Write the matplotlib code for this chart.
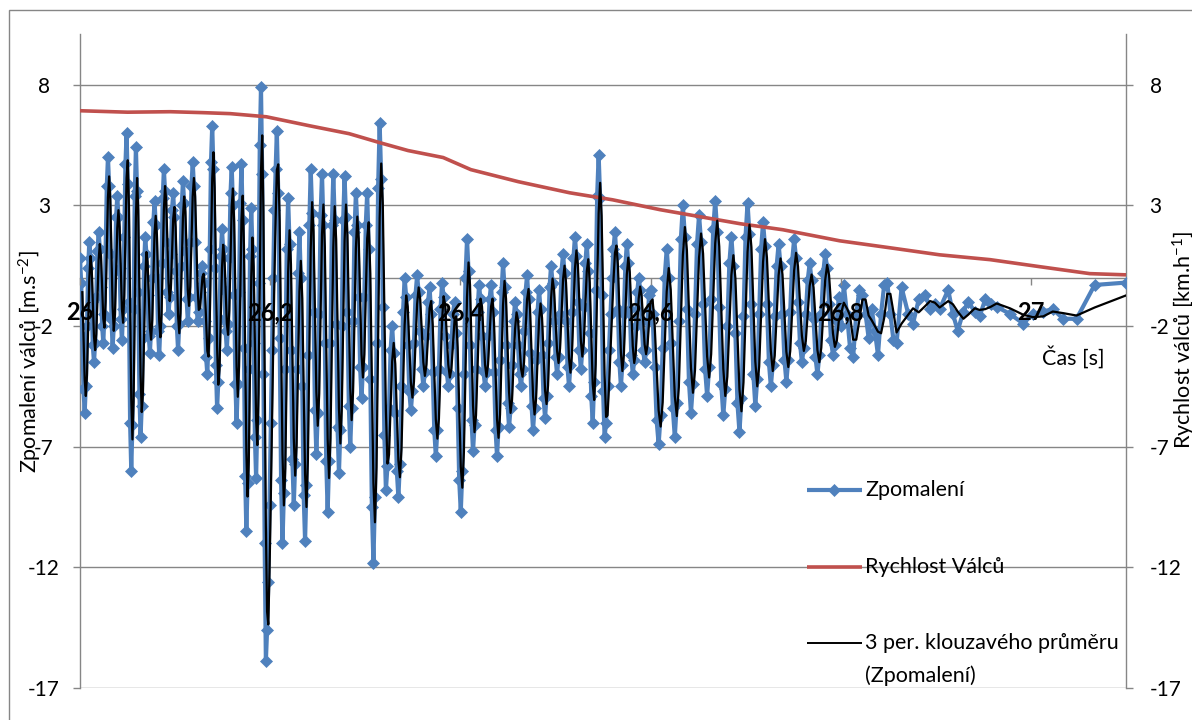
import numpy as np
import matplotlib
matplotlib.use("Agg")
import matplotlib.pyplot as plt
from matplotlib.lines import Line2D
from matplotlib.patches import Rectangle

plt.rcParams['font.family'] = ['Lato', 'DejaVu Sans']
plt.rcParams['mathtext.fontset'] = 'custom'
plt.rcParams['mathtext.rm'] = 'Lato'

# deceleration samples, one list per block (samples evenly spread inside a block)
block_edges = [26.000, 26.098, 26.207, 26.302, 26.407, 26.508, 26.600, 26.702, 26.800, 26.862]

zpom_1 = [0.8, -0.2, -2.4, -4.6, -5.6, -4.5, -2.0, 0.4,
          1.5, 0.8, -1.0, -2.8, -3.5, -2.7, -0.8, 1.1,
          1.9, 1.2, -0.4, -2.0, -2.7, -1.5, 1.2, 3.8,
          5.0, 3.8, 1.0, -1.7, -2.9, -2.0, 0.3, 2.5,
          3.4, 2.5, 0.4, -1.7, -2.6, -1.3, 1.7, 4.7,
          6.0, 3.9, -1.0, -6.0, -8.0, -6.1, -1.3, 3.4,
          5.4, 3.6, -0.6, -4.8, -6.6, -5.3, -2.5, 0.5,
          1.7, 1.0, -0.7, -2.4, -3.1, -2.2, 0.0, 2.3,
          3.2, 2.2, 0.0, -2.2, -3.2, -2.0, 0.6, 3.3,
          4.5, 3.6, 1.5, -0.6, -1.5, -0.8, 1.0, 2.8]
zpom_2 = [3.5, 2.5, 0.3, -2.0, -3.0, -1.9, 0.5, 3.0,
          4.0, 3.1, 1.1, -0.9, -1.8, -0.8, 1.5, 3.8,
          4.8, 3.8, 1.5, -0.8, -1.8, -1.4, -0.6, 0.2,
          0.5, -0.2, -1.8, -3.3, -4.0, -2.5, 1.2, 4.8,
          6.3, 4.5, 0.4, -3.6, -5.4, -4.3, -1.7, 0.9,
          2.0, 1.2, -0.5, -2.2, -3.0, -1.9, 0.8, 3.5,
          4.6, 3.0, -0.7, -4.4, -6.0, -4.4, -0.6, 3.1,
          4.7, 2.4, -2.9, -8.2, -10.5, -8.5, -3.8, 0.9,
          2.9, 1.2, -2.7, -6.6, -8.3, -5.9, -0.2, 5.5,
          7.9, 4.3, -4.0, -11.0, -15.9, -14.6, -12.6, -9.4, -6.0, -3.0, 0.0, 2.8, 4.5]
zpom_3 = [6.1, 3.5, -2.5, -8.4, -11.0, -8.9, -3.8, 1.2,
          3.3, 1.4, -3.0, -7.5, -9.4, -7.7, -3.8, 0.2,
          1.9, 0.0, -4.5, -9.0, -10.9, -8.6, -3.2, 2.2,
          4.5, 2.7, -1.4, -5.5, -7.3, -5.6, -1.5, 2.6,
          4.3, 2.2, -2.7, -7.6, -9.7, -7.6, -2.7, 2.2,
          4.3, 2.4, -1.9, -6.2, -8.1, -6.3, -2.0, 2.4,
          4.2, 2.5, -1.4, -5.3, -7.0, -5.4, -1.8, 1.9,
          3.5, 2.2, -0.8, -3.7, -5.0, -3.7, -0.8, 2.2]
zpom_4 = [3.5, 1.2, -4.2, -9.5, -11.8, -9.1, -2.7, 3.7,
          6.4, 4.1, -1.2, -6.5, -8.8, -7.8, -5.4, -3.0,
          -2.0, -3.1, -5.6, -8.0, -9.1, -7.7, -4.5, -1.4,
          0.0, -0.8, -2.8, -4.7, -5.5, -4.7, -2.7, -0.7,
          0.1, -0.6, -2.2, -3.8, -4.5, -3.9, -2.4, -1.0,
          -0.4, -1.5, -3.9, -6.3, -7.4, -6.3, -3.8, -1.3,
          -0.2, -0.8, -2.4, -3.9, -4.5, -4.0, -2.8, -1.5,
          -1.0, -2.3, -5.4, -8.4, -9.7, -8.0, -4.0, 0.0]
zpom_5 = [1.6, 0.3, -2.8, -5.9, -7.2, -6.1, -3.8, -1.4,
          -0.3, -0.9, -2.4, -3.9, -4.5, -3.9, -2.4, -0.9,
          -0.3, -1.4, -3.9, -6.3, -7.4, -6.2, -3.4, -0.6,
          0.6, -0.4, -2.8, -5.2, -6.2, -5.4, -3.6, -1.8,
          -1.0, -1.5, -2.8, -4.0, -4.5, -3.8, -2.2, -0.6,
          0.1, -0.9, -3.1, -5.3, -6.3, -5.4, -3.4, -1.4,
          -0.5, -1.3, -3.2, -5.0, -5.8, -4.9, -2.7, -0.4,
          0.5, -0.2, -1.8, -3.3, -4.0, -3.3, -1.5, 0.3]
zpom_6 = [1.0, 0.2, -1.8, -3.7, -4.5, -3.6, -1.4, 0.8,
          1.7, 0.9, -1.0, -3.0, -3.8, -3.0, -1.2, 0.6,
          1.4, 0.3, -2.3, -4.9, -6.0, -4.3, -0.5, 3.4,
          5.1, 3.3, -0.7, -4.7, -6.6, -6.0, -4.5, -3.0, -1.5, 0.0, 1.2,
          1.9, 0.9, -1.3, -3.5, -4.5, -3.6, -1.5, 0.5,
          1.4, 0.6, -1.3, -3.2, -4.0, -3.4, -2.0, -0.6,
          0.0, -0.5, -1.8, -3.0, -3.5, -3.0, -1.8, -0.7]
zpom_7 = [-0.5, -1.5, -3.7, -5.9, -6.9, -5.7, -2.9, 0.0,
          1.2, 0.0, -2.7, -5.4, -6.6, -5.2, -1.8, 1.6,
          3.0, 1.7, -1.3, -4.3, -5.6, -4.4, -1.5, 1.4,
          2.6, 1.5, -1.1, -3.8, -4.9, -3.7, -0.9, 2.0,
          3.2, 1.9, -1.2, -4.4, -5.7, -4.6, -2.0, 0.6,
          1.7, 0.5, -2.3, -5.2, -6.4, -5.0, -1.6, 1.7]
zpom_8 = [3.1, 1.8, -1.1, -4.0, -5.3, -4.2, -1.5, 1.2,
          2.3, 1.3, -1.1, -3.5, -4.5, -3.6, -1.6, 0.5,
          1.4, 0.5, -1.5, -3.4, -4.3, -3.4, -1.4, 0.7,
          1.6, 0.8, -1.0, -2.7, -3.5, -2.9, -1.5, -0.1,
          0.6, -0.1, -1.7, -3.3, -4.0, -3.2, -1.5, 0.2,
          1.0, 0.4, -1.1, -2.6, -3.2, -2.8, -1.8, -0.8]
zpom_9 = [-2.0, -0.3, -1.5, -2.9, -3.3, -1.5, -0.5, -0.7, -1.5, -2.5, -1.3, -2.2,
          -3.2, -1.5, -0.3, -0.2, -1.5, -2.6, -2.7]

# sparse samples at the end of the run
cas_konec = [26.864, 26.871, 26.876, 26.882, 26.889, 26.894, 26.899, 26.904, 26.913,
             26.918, 26.923, 26.929, 26.934, 26.941, 26.946, 26.952, 26.958, 26.964,
             26.978, 26.992, 27.002, 27.013, 27.023, 27.034, 27.048, 27.067, 27.100]
zpom_konec = [-0.4, -1.5, -1.9, -0.9, -0.7, -1.3, -1.1, -1.3, -0.5, -1.5, -2.2, -1.4,
              -1.0, -1.4, -1.6, -0.9, -1.1, -1.2, -1.5, -1.9, -1.5, -1.4, -1.3, -1.7,
              -1.7, -0.3, -0.2]

# roller speed
cas_rychlost = [26.000, 26.050, 26.095, 26.130, 26.158, 26.196, 26.241, 26.283, 26.315,
                26.345, 26.382, 26.411, 26.461, 26.515, 26.560, 26.610, 26.652, 26.694,
                26.739, 26.799, 26.852, 26.904, 26.957, 27.009, 27.062, 27.100]
rychlost = [6.92, 6.86, 6.88, 6.84, 6.80, 6.67, 6.30, 5.97, 5.60, 5.27, 4.98, 4.48,
            3.98, 3.52, 3.23, 2.82, 2.53, 2.24, 1.99, 1.53, 1.24, 0.95, 0.75, 0.46,
            0.17, 0.12]

xticks = [26.0, 26.2, 26.4, 26.6, 26.8, 27.0]
xtick_labels = ['26', '26,2', '26,4', '26,6', '26,8', '27']
yticks = [-17, -12, -7, -2, 3, 8]

blocks = [zpom_1, zpom_2, zpom_3, zpom_4, zpom_5, zpom_6, zpom_7, zpom_8, zpom_9]
cas = []
zpom = []
for i, vals in enumerate(blocks):
    cas.extend(np.linspace(block_edges[i], block_edges[i + 1], len(vals), endpoint=False))
    zpom.extend(vals)
cas.extend(cas_konec)
zpom.extend(zpom_konec)
cas = np.array(cas)
zpom = np.array(zpom)

# trailing 3-period moving average, the way the spreadsheet trendline draws it
klouz = np.convolve(zpom, np.ones(3) / 3, mode='valid')

BLUE = '#4F81BD'
RED = '#C0504D'
GRAY = '#868686'
W, H = 1192, 720

fig = plt.figure(figsize=(W / 100, H / 100), dpi=100)
ax = fig.add_axes([80 / W, 1 - 688 / H, (1126 - 80) / W, (688 - 34) / H])

for side in ['top', 'right']:
    ax.spines[side].set_visible(False)
ax.spines['bottom'].set_position(('data', 0))
for side in ['left', 'bottom']:
    ax.spines[side].set_color(GRAY)
    ax.spines[side].set_linewidth(1.0)
    ax.spines[side].set_zorder(1)

ax.plot(cas, zpom, color=BLUE, lw=3.0, marker='D', ms=6.5, mec=BLUE, mew=0.5, zorder=3)
ax.plot(cas_rychlost, rychlost, color=RED, lw=2.6, zorder=4, solid_capstyle='butt')
ax.plot(cas[2:], klouz, color='black', lw=1.6, zorder=5)

ax.set_xlim(26.0, 27.1)
ax.set_ylim(-17, 10.1)
ax.set_xticks(xticks)
ax.set_xticklabels(xtick_labels)
ax.set_yticks(yticks)
ax.set_yticklabels([str(v) for v in yticks])
ax.tick_params(axis='x', direction='out', length=5, width=1, color=GRAY, pad=12, labelsize=17)
ax.tick_params(axis='y', direction='out', length=5, width=1, color=GRAY, pad=21, labelsize=15)
for lbl in ax.get_xticklabels():
    lbl.set_fontweight('bold')
for lbl in ax.get_yticklabels():
    lbl.set_horizontalalignment('center')

ax.yaxis.grid(True, color=GRAY, lw=1.0)
ax.set_axisbelow(True)
# time labels sit on top of the traces
ax.xaxis.set_zorder(10)

ax2 = ax.secondary_yaxis('right')
ax2.set_yticks(yticks)
ax2.set_yticklabels([str(v) for v in yticks])
ax2.spines['right'].set_color(GRAY)
ax2.spines['right'].set_linewidth(1.0)
ax2.tick_params(axis='y', direction='out', length=5, width=1, color=GRAY, pad=12, labelsize=15)


def fx(px):
    return px / W


def fy(py):
    return 1 - py / H


fig.text(fx(30), fy(362), 'Zpomalení válců [m.s$\\mathregular{^{-2}}$]', rotation=90,
         ha='center', va='center', fontsize=15.5)
fig.text(fx(1184), fy(340), 'Rychlost válců [km.h$\\mathregular{^{-1}}$]', rotation=90,
         ha='center', va='center', fontsize=15.5)
fig.text(fx(1073), fy(357), 'Čas [s]', ha='center', va='center', fontsize=15.5)

# legend drawn by hand so the wrapped label sits as in the spreadsheet
leg = [
    (490, dict(color=BLUE, lw=3.0), 'Zpomalení'),
    (567, dict(color=RED, lw=2.6), 'Rychlost Válců'),
    (643, dict(color='black', lw=1.4), '3 per. klouzavého průměru'),
]
for py, style, label in leg:
    fig.add_artist(Line2D([fx(807), fx(862)], [fy(py), fy(py)], transform=fig.transFigure,
                          solid_capstyle='butt', **style))
    fig.text(fx(865), fy(py), label, ha='left', va='center', fontsize=15.5)
fig.add_artist(Line2D([fx(834)], [fy(490)], transform=fig.transFigure, marker='D',
                      ms=6.5, color=BLUE, mec=BLUE, mew=0.5))
fig.text(fx(865), fy(676), '(Zpomalení)', ha='left', va='center', fontsize=15.5)

# chart frame, running past the right and bottom edges
fig.add_artist(Rectangle((fx(9), fy(800)), 1.5, fy(10) - fy(800),
                         transform=fig.transFigure, fill=False, edgecolor=GRAY, lw=1.0))

fig.savefig('out.png', dpi=100)
